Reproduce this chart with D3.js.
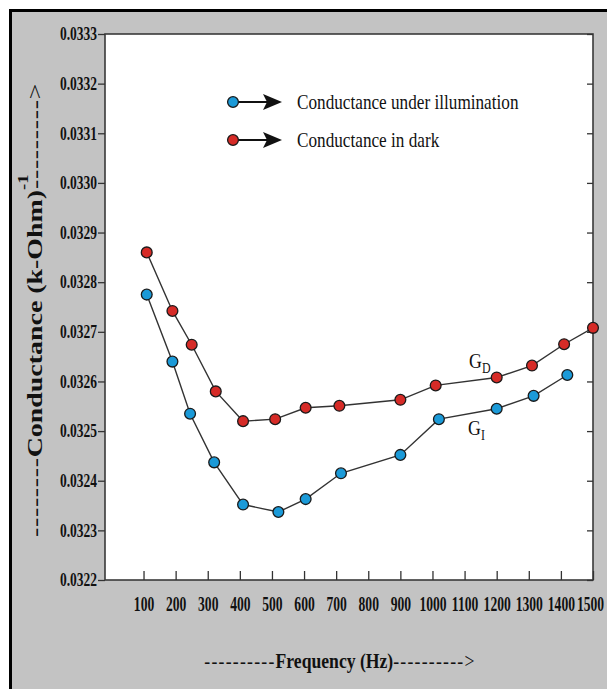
<!DOCTYPE html>
<html>
  <head>
    <meta charset="utf-8" />
    <script src="https://d3js.org/d3.v7.min.js"></script>
    <style>
      html, body { margin: 0; padding: 0; background: #c3c3c3; overflow: hidden; }
      svg { display: block; }
      text { font-family: "Liberation Serif", "Times New Roman", serif; fill: #111; }
      .frame { fill: #fff; stroke: #3a3a3a; stroke-width: 1.6px; }
      .tick line { stroke: #333; stroke-width: 1.3px; }
      .curve { fill: none; stroke: #333; stroke-width: 1.4px; }
      .dot { stroke: #1a1a1a; stroke-width: 1.3px; }
    </style>
  </head>
  <body>
    <svg id="chart" width="607" height="689"></svg>
  <script>

  // frequency (Hz) and conductance (k-Ohm)^-1
  var darkFreq = [110, 190, 250, 325, 410, 510, 605, 710, 900, 1010, 1200, 1310, 1410, 1500];
  var darkValues = [0.032860, 0.032742, 0.032674, 0.032580, 0.032520, 0.032524, 0.032547,
                    0.032551, 0.032563, 0.032592, 0.032608, 0.032632, 0.032675, 0.032708];

  var lightFreq = [110, 190, 245, 320, 410, 520, 605, 715, 900, 1020, 1200, 1315, 1420];
  var lightValues = [0.032775, 0.032640, 0.032535, 0.032437, 0.032352, 0.032337, 0.032363,
                     0.032415, 0.032452, 0.032524, 0.032545, 0.032571, 0.032613];

  var xTicks = [100, 200, 300, 400, 500, 600, 700, 800, 900, 1000, 1100, 1200, 1300, 1400, 1500];
  var yTicks = [0.0322, 0.0323, 0.0324, 0.0325, 0.0326, 0.0327, 0.0328, 0.0329, 0.0330, 0.0331, 0.0332, 0.0333];

  var legendLabels = ["Conductance under illumination", "Conductance in dark"];
  var colors = { light: "#1b9ad8", dark: "#d62b27" };

  var svg = d3.select("#chart");

  var x = d3.scaleLinear().domain([-20, 1500]).range([105, 593]);
  var y = d3.scaleLinear().domain([0.0322, 0.0333]).range([580, 34]);

  // white page, then grey card with black border on the left and top
  svg.append("rect")
    .attr("width", 607).attr("height", 689)
    .attr("fill", "#fff");
  svg.append("rect")
    .attr("x", 10).attr("y", 10)
    .attr("width", 597).attr("height", 679)
    .attr("fill", "#c3c3c3");
  svg.append("path")
    .attr("d", "M10.5,689 V10.5 H607")
    .attr("fill", "none")
    .attr("stroke", "#000")
    .attr("stroke-width", 3);

  // plot area
  svg.append("rect")
    .attr("class", "frame")
    .attr("x", x.range()[0])
    .attr("y", y.range()[1])
    .attr("width", x.range()[1] - x.range()[0])
    .attr("height", y.range()[0] - y.range()[1]);

  // left axis
  var yAxis = svg.append("g")
    .attr("transform", "translate(" + x.range()[0] + ",0)")
    .call(d3.axisLeft(y).tickValues(yTicks).tickSize(7).tickFormat(d3.format(".4f")));
  yAxis.select(".domain").remove();
  yAxis.selectAll("text")
    .attr("x", -8 / 0.75)
    .attr("transform", "scale(0.75,1)")
    .style("font-size", "18px")
    .style("font-weight", "bold");

  // right side inner ticks
  var yAxisR = svg.append("g")
    .attr("transform", "translate(" + x.range()[1] + ",0)")
    .call(d3.axisLeft(y).tickValues(yTicks).tickSize(6).tickFormat(""));
  yAxisR.select(".domain").remove();

  // bottom axis, ticks pointing in
  var xAxis = svg.append("g")
    .attr("transform", "translate(0," + y.range()[0] + ")")
    .call(d3.axisBottom(x).tickValues(xTicks).tickSize(-9).tickFormat(d3.format("d")));
  xAxis.select(".domain").remove();
  xAxis.selectAll("text")
    .attr("y", 31)
    .attr("dy", null)
    .attr("transform", "scale(0.68,1)")
    .style("font-size", "20px")
    .style("font-weight", "bold");
  // last label sits against the right edge, nudge it in a little
  xAxis.selectAll(".tick").filter(function(d) { return d === 1500; })
    .select("text").attr("x", -3 / 0.68);

  // curves
  var line = d3.line()
    .x(function(d) { return x(d[0]); })
    .y(function(d) { return y(d[1]); });

  var series = [
    { key: "dark", pts: d3.zip(darkFreq, darkValues) },
    { key: "light", pts: d3.zip(lightFreq, lightValues) }
  ];

  series.forEach(function(s) {
    svg.append("path")
      .attr("class", "curve")
      .attr("d", line(s.pts));

    svg.selectAll(".dot-" + s.key)
      .data(s.pts)
      .enter().append("circle")
      .attr("class", "dot dot-" + s.key)
      .attr("cx", function(d) { return x(d[0]); })
      .attr("cy", function(d) { return y(d[1]); })
      .attr("r", 5.4)
      .attr("fill", colors[s.key]);
  });

  // curve labels G_D and G_I
  function curveLabel(px, py, sub) {
    var t = svg.append("text")
      .attr("transform", "translate(" + px + "," + py + ") scale(0.85,1)")
      .style("font-size", "21px");
    t.append("tspan").text("G");
    t.append("tspan").attr("dy", 5).style("font-size", "14px").text(sub);
  }
  curveLabel(469, 368, "D");
  curveLabel(468, 435, "I");

  // legend
  var legendKeys = ["light", "dark"];
  var legend = svg.selectAll(".legend")
    .data(legendLabels)
    .enter().append("g")
    .attr("class", "legend")
    .attr("transform", function(d, i) { return "translate(233," + (102 + i * 38) + ")"; });

  legend.append("line")
    .attr("x1", 0).attr("x2", 34)
    .attr("y1", 0).attr("y2", 0)
    .attr("stroke", "#111").attr("stroke-width", 2);
  legend.append("path")
    .attr("d", "M30,-8 L49,0 L30,8 L34,0 Z")
    .attr("fill", "#111");
  legend.append("circle")
    .attr("class", "dot")
    .attr("r", 5.4)
    .attr("fill", function(d, i) { return colors[legendKeys[i]]; });
  legend.append("text")
    .attr("transform", "translate(64,7) scale(0.86,1)")
    .style("font-size", "20px")
    .text(function(d) { return d; });

  // axis titles
  var yTitle = svg.append("text")
    .attr("transform", "translate(42,310) rotate(-90) scale(1.33,1)")
    .attr("text-anchor", "middle")
    .style("font-size", "21px");
  yTitle.append("tspan").style("letter-spacing", "0.5px").text("--------");
  yTitle.append("tspan").style("font-weight", "bold").text("Conductance (k-Ohm)");
  yTitle.append("tspan").attr("dy", -14).style("font-size", "14px").style("font-weight", "bold").text("-1");
  yTitle.append("tspan").attr("dy", 14).attr("dx", -11).style("letter-spacing", "0.5px").text("--------->");

  var xTitle = svg.append("text")
    .attr("transform", "translate(340,668) scale(0.84,1)")
    .attr("text-anchor", "middle")
    .style("font-size", "21px");
  xTitle.append("tspan").style("letter-spacing", "1.5px").text("----------");
  xTitle.append("tspan").style("font-weight", "bold").text("Frequency (Hz)");
  xTitle.append("tspan").style("letter-spacing", "1.5px").text("---------->");

  </script>
  </body>
</html>
